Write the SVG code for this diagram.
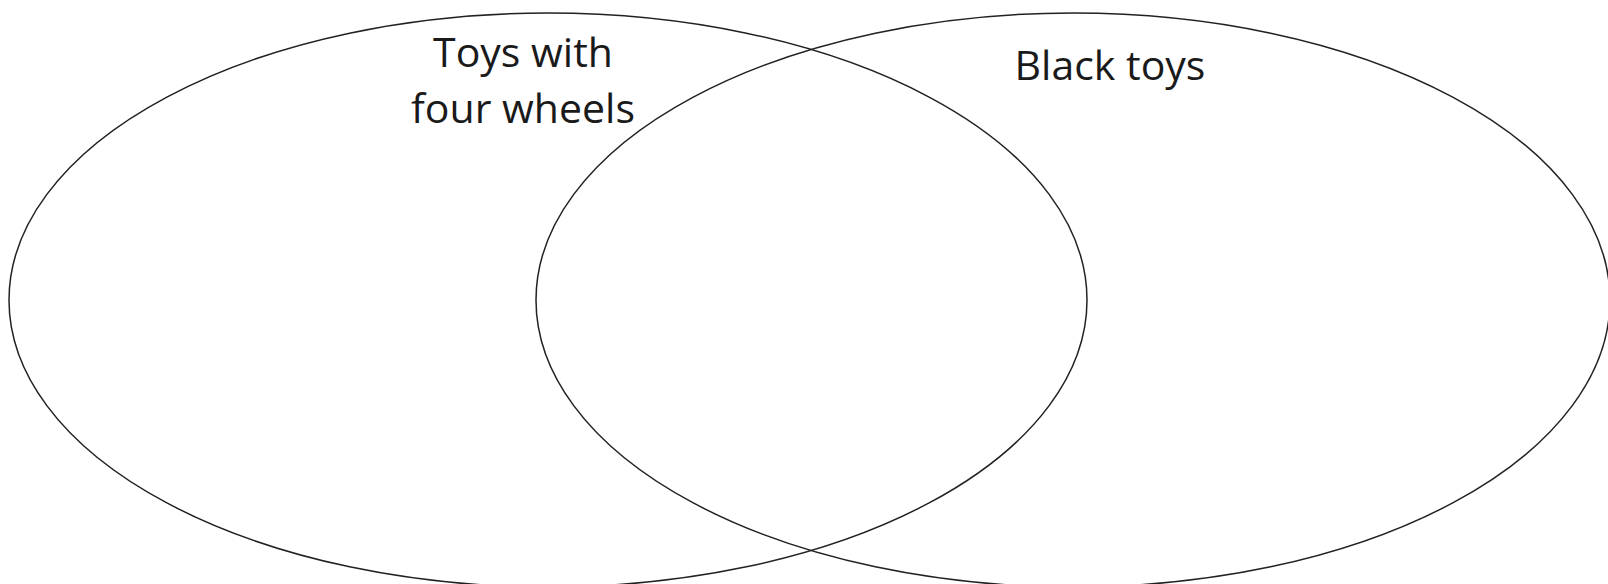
<svg xmlns="http://www.w3.org/2000/svg" width="1608" height="584" viewBox="0 0 1608 584">
<style>
.set{fill:none;stroke:#222;stroke-width:1.5}
.lbl{font-family:"Open Sans","Liberation Sans",sans-serif;font-size:41px;fill:#1a1a1a;text-anchor:middle}
</style>
<rect width="1608" height="584" fill="#fff"/>
<g id="set-four-wheels">
<ellipse class="set" cx="548" cy="300" rx="539" ry="287"/>
<text class="lbl" x="523" y="67">Toys with</text>
<text class="lbl" x="523" y="123">four wheels</text>
</g>
<g id="set-black">
<ellipse class="set" cx="1073" cy="300" rx="537" ry="287"/>
<text class="lbl" x="1110" y="80">Black toys</text>
</g>
<g id="connectors"></g>
</svg>
